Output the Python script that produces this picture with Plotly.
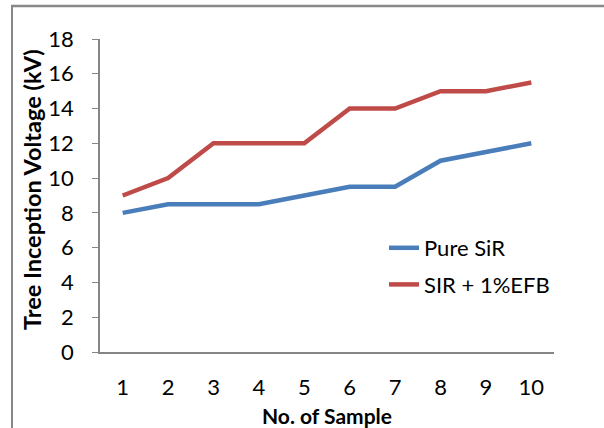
import plotly.graph_objects as go

samples = [1, 2, 3, 4, 5, 6, 7, 8, 9, 10]
pure_sir = [8, 8.5, 8.5, 8.5, 9, 9.5, 9.5, 11, 11.5, 12]
sir_efb = [9, 10, 12, 12, 12, 14, 14, 15, 15, 15.5]
y_ticks = [0, 2, 4, 6, 8, 10, 12, 14, 16, 18]

FONT = "Lato"
W, H = 604, 428
L, T, R, B = 100, 39, 50, 76
pw, ph = W - L - R, H - T - B
def px(x): return (x - L) / pw
def py(y): return (H - B - y) / ph

fig = go.Figure()
fig.add_trace(go.Scatter(x=samples, y=pure_sir, mode="lines", name="Pure SiR",
                         line=dict(color="#4A7EBB", width=4.5), legendgroup="a"))
fig.add_trace(go.Scatter(x=samples, y=sir_efb, mode="lines", name="SIR + 1%EFB",
                         line=dict(color="#BE4B48", width=4.5), legendgroup="b"))

fig.update_layout(
    width=W, height=H,
    margin=dict(l=L, r=R, t=T, b=B, pad=0),
    paper_bgcolor="white", plot_bgcolor="white",
    font=dict(family=FONT, size=22, color="black"),
    showlegend=True,
    legend=dict(x=px(384), y=py(227), xanchor="left", yanchor="top",
                font=dict(size=22), tracegroupgap=5, bgcolor="rgba(0,0,0,0)"),
    xaxis=dict(range=[0.5, 10.5], tickvals=samples, ticktext=[str(s) for s in samples],
               showgrid=False, zeroline=False, showline=True, linecolor="#868686",
               linewidth=1.5, ticks="", ticklabelstandoff=15, tickfont=dict(size=22)),
    yaxis=dict(range=[0, 18], tickvals=y_ticks, showgrid=False, zeroline=False,
               showline=True, linecolor="#868686", linewidth=1.5, ticks="outside",
               ticklen=6, tickcolor="#868686", ticklabelstandoff=14, tickfont=dict(size=22)),
    annotations=[
        dict(text="<b>No. of Sample</b>", xref="paper", yref="paper",
             x=px(327), y=py(415), xanchor="center", yanchor="middle",
             showarrow=False, font=dict(size=21)),
        dict(text="<b>Tree Inception Voltage (kV)</b>", xref="paper", yref="paper",
             x=px(32), y=py(190), xanchor="center", yanchor="middle", textangle=-90,
             showarrow=False, font=dict(size=23.5)),
    ],
    shapes=[
        dict(type="line", xref="paper", yref="paper", x0=px(11), x1=px(620),
             y0=py(6), y1=py(6), line=dict(color="#888888", width=2.5)),
        dict(type="line", xref="paper", yref="paper", x0=px(12), x1=px(12),
             y0=py(5), y1=py(440), line=dict(color="#888888", width=2)),
    ],
)

fig.write_html("out.html", config={"displayModeBar": False},
               post_script="document.body.style.margin='0';document.body.style.overflow='hidden';")
